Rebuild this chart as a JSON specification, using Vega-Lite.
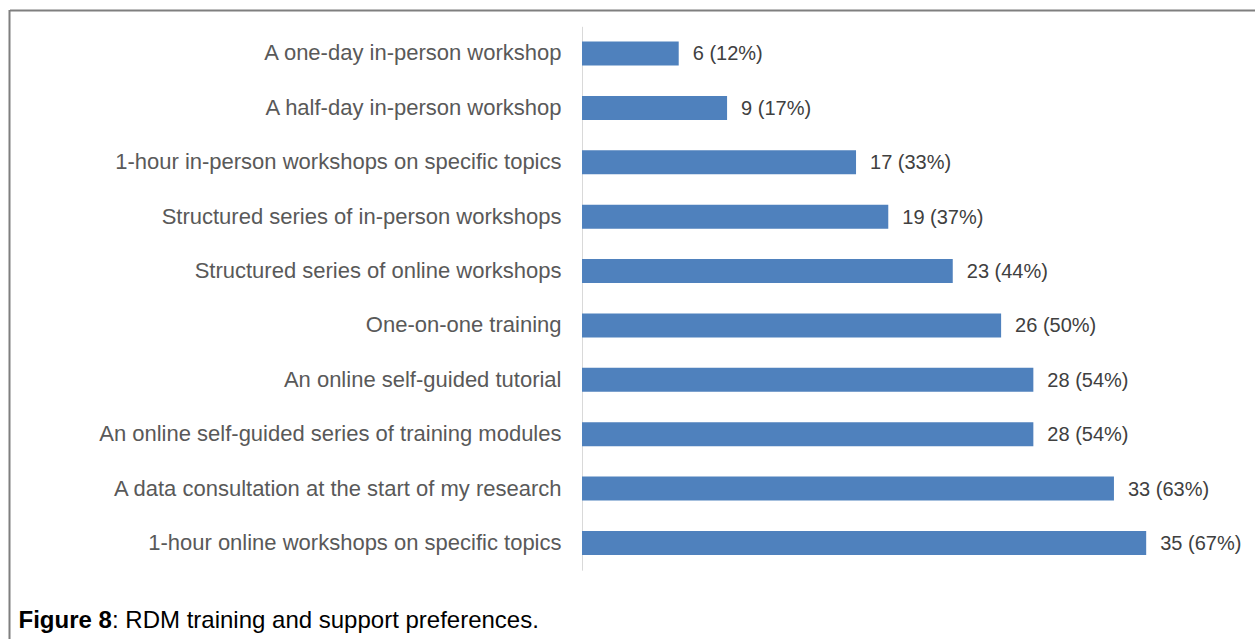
{
  "$schema": "https://vega.github.io/schema/vega-lite/v6.json",
  "width": 1245.5,
  "height": 629,
  "autosize": {"type": "none"},
  "padding": {"left": 9.5, "top": 10, "right": 0, "bottom": 0},
  "background": "white",
  "config": {"view": {"stroke": null}, "font": "Liberation Sans"},
  "data": {
    "values": [
      {"option": "A one-day in-person workshop", "count": 6, "label": "6 (12%)"},
      {"option": "A half-day in-person workshop", "count": 9, "label": "9 (17%)"},
      {"option": "1-hour in-person workshops on specific topics", "count": 17, "label": "17 (33%)"},
      {"option": "Structured series of in-person workshops", "count": 19, "label": "19 (37%)"},
      {"option": "Structured series of online workshops", "count": 23, "label": "23 (44%)"},
      {"option": "One-on-one training", "count": 26, "label": "26 (50%)"},
      {"option": "An online self-guided tutorial", "count": 28, "label": "28 (54%)"},
      {"option": "An online self-guided series of training modules", "count": 28, "label": "28 (54%)"},
      {"option": "A data consultation at the start of my research", "count": 33, "label": "33 (63%)"},
      {"option": "1-hour online workshops on specific topics", "count": 35, "label": "35 (67%)"}
    ]
  },
  "encoding": {
    "y": {
      "field": "option",
      "type": "nominal",
      "sort": null,
      "scale": {"range": [16.3, 560.2], "paddingInner": 0.559, "paddingOuter": 0.2795},
      "axis": {
        "orient": "left",
        "offset": -572.5,
        "domain": true,
        "domainColor": "#d9d9d9",
        "domainWidth": 1,
        "ticks": false,
        "tickSize": 0,
        "grid": false,
        "labelPadding": 21,
        "labelFontSize": 22,
        "labelColor": "#595959",
        "labelFont": "Liberation Sans",
        "labelLimit": 0,
        "title": "Figure 8",
        "titleAngle": 0,
        "titleX": -564,
        "titleY": 617,
        "titleAlign": "left",
        "titleBaseline": "alphabetic",
        "titleFont": "Liberation Sans",
        "titleFontSize": 24,
        "titleFontWeight": "bold",
        "titleColor": "#000000"
      }
    }
  },
  "layer": [
    {
      "data": {"values": [{"frame": "left"}]},
      "mark": {"type": "rule", "color": "#7f7f7f", "strokeWidth": 2},
      "encoding": {
        "y": null,
        "x": {"datum": -35.515, "type": "quantitative"}
      }
    },
    {
      "mark": {"type": "bar", "color": "#4f81bd"},
      "encoding": {
        "x": {
          "field": "count",
          "type": "quantitative",
          "scale": {"domain": [-35.515, 41.75], "nice": false, "zero": false},
          "axis": {
            "orient": "top",
            "labels": false,
            "ticks": false,
            "grid": false,
            "domain": true,
            "domainColor": "#7f7f7f",
            "domainWidth": 2,
            "title": ": RDM training and support preferences.",
            "titleX": 102,
            "titleY": 617,
            "titleAlign": "left",
            "titleAnchor": "start",
            "titleBaseline": "alphabetic",
            "titleFont": "Liberation Sans",
            "titleFontSize": 24,
            "titleFontWeight": "normal",
            "titleColor": "#000000"
          }
        },
        "x2": {"datum": 0}
      }
    },
    {
      "mark": {"type": "text", "align": "left", "baseline": "middle", "dx": 14, "dy": 1, "fontSize": 20, "color": "#404040", "font": "Liberation Sans"},
      "encoding": {
        "x": {"field": "count", "type": "quantitative"},
        "text": {"field": "label"}
      }
    }
  ]
}
